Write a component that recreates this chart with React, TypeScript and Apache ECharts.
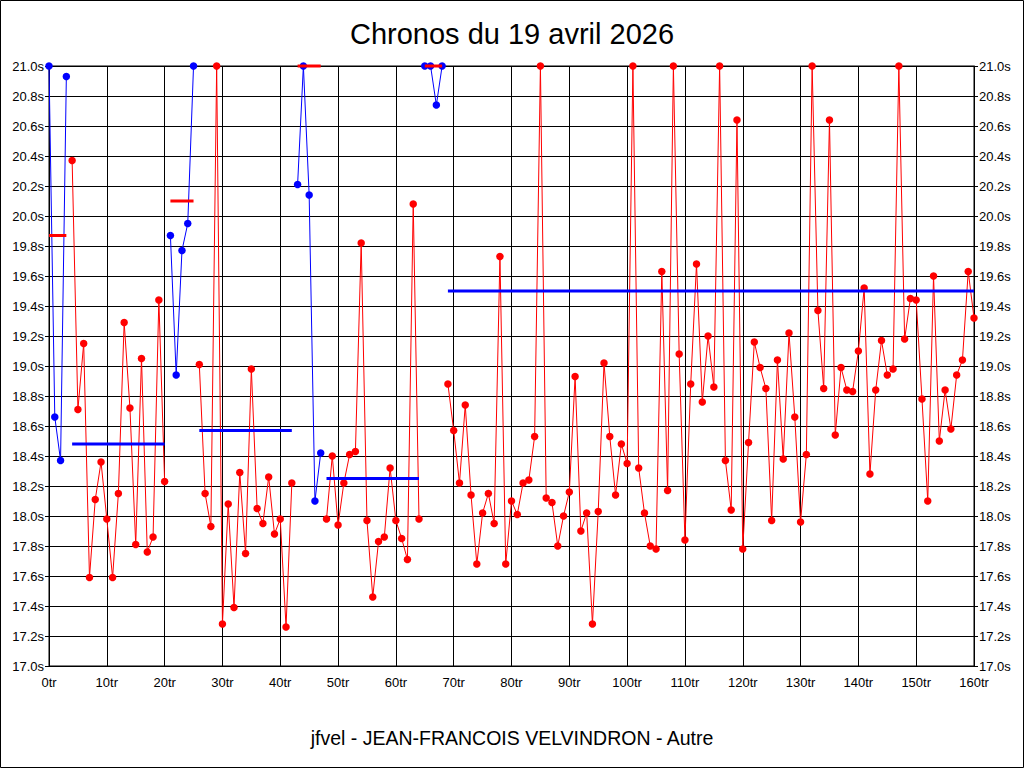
import React, { useEffect, useRef } from "react";
import * as echarts from "echarts";

const titleText = "Chronos du 19 avril 2026";
const footerText = "jfvel - JEAN-FRANCOIS VELVINDRON - Autre";

// lap times in seconds, lap 0..160
const lapTimes = [
  21.0, 18.66, 18.37, 20.93, 20.37, 18.71, 19.15, 17.59, 18.11, 18.36,
  17.98, 17.59, 18.15, 19.29, 18.72, 17.81, 19.05, 17.76, 17.86, 19.44,
  18.23, 19.87, 18.94, 19.77, 19.95, 21.0, 19.01, 18.15, 17.93, 21.0,
  17.28, 18.08, 17.39, 18.29, 17.75, 18.98, 18.05, 17.95, 18.26, 17.88,
  17.98, 17.26, 18.22, 20.21, 21.0, 20.14, 18.1, 18.42, 17.98, 18.4,
  17.94, 18.22, 18.41, 18.43, 19.82, 17.97, 17.46, 17.83, 17.86, 18.32,
  17.97, 17.85, 17.71, 20.08, 17.98, 21.0, 21.0, 20.74, 21.0, 18.88,
  18.57, 18.22, 18.74, 18.14, 17.68, 18.02, 18.15, 17.95, 19.73, 17.68,
  18.1, 18.01, 18.22, 18.24, 18.53, 21.0, 18.12, 18.09, 17.8, 18.0,
  18.16, 18.93, 17.9, 18.02, 17.28, 18.03, 19.02, 18.53, 18.14, 18.48,
  18.35, 21.0, 18.32, 18.02, 17.8, 17.78, 19.63, 18.17, 21.0, 19.08,
  17.84, 18.88, 19.68, 18.76, 19.2, 18.86, 21.0, 18.37, 18.04, 20.64,
  17.78, 18.49, 19.16, 18.99, 18.85, 17.97, 19.04, 18.38, 19.22, 18.66,
  17.96, 18.41, 21.0, 19.37, 18.85, 20.64, 18.54, 18.99, 18.84, 18.83,
  19.1, 19.52, 18.28, 18.84, 19.17, 18.94, 18.98, 21.0, 19.18, 19.45,
  19.44, 18.78, 18.1, 19.6, 18.5, 18.84, 18.58, 18.94, 19.04, 19.63,
  19.32,
];

// laps drawn in blue (first lap, last lap)
const blueStintStart = [0, 21, 43, 65];
const blueStintEnd = [3, 25, 47, 68];

// horizontal reference segments
const avgFrom = [0, 4, 21, 26, 43, 48, 65, 69];
const avgTo = [3, 20, 25, 42, 47, 64, 68, 160];
const avgValue = [19.87, 18.48, 20.1, 18.57, 21.0, 18.25, 21.0, 19.5];
const avgIsRed = [true, false, true, false, true, false, true, false];

const RED = "#ff0000";
const BLUE = "#0000ff";
const FONT = "'Liberation Sans', Arial, sans-serif";

export default function App() {
  const ref = useRef<HTMLDivElement>(null);

  useEffect(() => {
    document.body.style.margin = "0";
    const chart = echarts.init(ref.current!, null, { renderer: "svg" });

    const isBlue = (i: number) =>
      blueStintStart.some((s, k) => i >= s && i <= blueStintEnd[k]);

    const redData = lapTimes.map((v, i) => [i, isBlue(i) ? "-" : v]);
    const blueData = lapTimes.map((v, i) => [i, isBlue(i) ? v : "-"]);

    const avgSeries = avgFrom.map((f, k) => ({
      type: "line",
      data: [
        [f, avgValue[k]],
        [avgTo[k], avgValue[k]],
      ],
      symbol: "none",
      lineStyle: { color: avgIsRed[k] ? RED : BLUE, width: 3 },
      z: 5,
      clip: false,
      silent: true,
    }));

    const yAxisCommon = {
      type: "value",
      min: 17,
      max: 21,
      interval: 0.2,
      axisLine: { show: true, lineStyle: { color: "#000", width: 1 } },
      axisTick: { show: true, length: 4, lineStyle: { color: "#000" } },
      axisLabel: {
        color: "#000",
        fontSize: 13,
        fontFamily: FONT,
        margin: 5,
        formatter: (v: number) => v.toFixed(1) + "s",
      },
      splitLine: { show: true, lineStyle: { color: "#000", width: 1 } },
    };

    chart.setOption({
      animation: false,
      backgroundColor: "#fff",
      title: [
        {
          text: titleText,
          left: "center",
          top: 14,
          textStyle: {
            fontSize: 29,
            fontWeight: "normal",
            color: "#000",
            fontFamily: FONT,
          },
        },
        {
          text: footerText,
          left: "center",
          top: 723,
          textStyle: {
            fontSize: 19.5,
            fontWeight: "normal",
            color: "#000",
            fontFamily: FONT,
          },
        },
      ],
      graphic: [
        {
          type: "rect",
          shape: { x: 0.5, y: 0.5, width: 1023, height: 767 },
          style: { fill: "none", stroke: "#000", lineWidth: 1 },
          silent: true,
        },
      ],
      grid: {
        left: 49,
        right: 50,
        top: 66,
        bottom: 102,
        show: true,
        borderColor: "#000",
        borderWidth: 1,
      },
      xAxis: {
        type: "value",
        min: 0,
        max: 160,
        interval: 10,
        axisLine: { show: true, lineStyle: { color: "#000" } },
        axisTick: { show: false },
        axisLabel: {
          color: "#000",
          fontSize: 13,
          fontFamily: FONT,
          margin: 10,
          formatter: (v: number) => v + "tr",
        },
        splitLine: { show: true, lineStyle: { color: "#000", width: 1 } },
      },
      yAxis: [
        { ...yAxisCommon, position: "left" },
        { ...yAxisCommon, position: "right" },
      ],
      series: [
        {
          type: "line",
          data: redData,
          symbol: "circle",
          symbolSize: 7.5,
          connectNulls: false,
          lineStyle: { color: RED, width: 1 },
          itemStyle: { color: RED },
          clip: false,
          z: 3,
        },
        {
          type: "line",
          data: blueData,
          symbol: "circle",
          symbolSize: 7.5,
          connectNulls: false,
          lineStyle: { color: BLUE, width: 1 },
          itemStyle: { color: BLUE },
          clip: false,
          z: 3,
        },
        ...avgSeries,
      ],
    });

    return () => chart.dispose();
  }, []);

  return <div ref={ref} style={{ width: 1024, height: 768 }} />;
}
